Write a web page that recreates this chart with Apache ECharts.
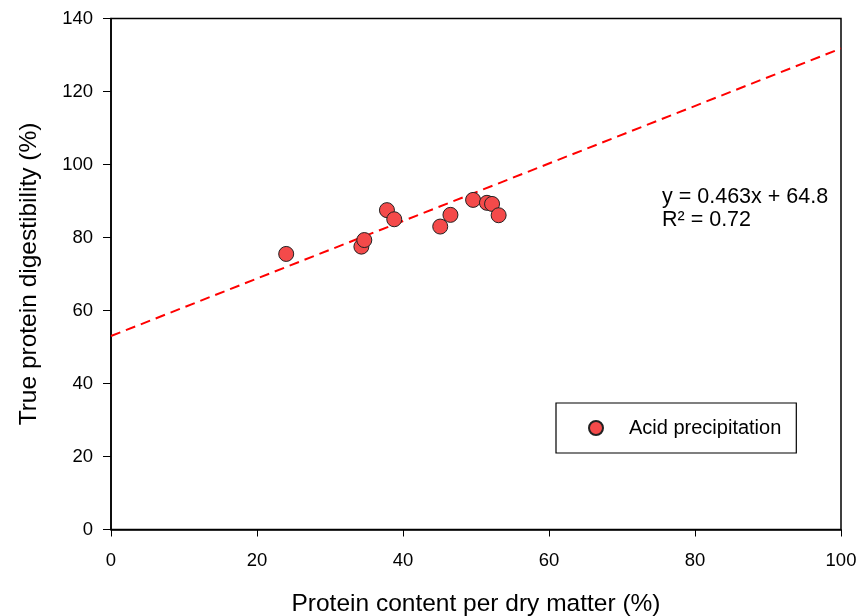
<!DOCTYPE html>
<html>
<head>
<meta charset="utf-8">
<script src="https://cdn.jsdelivr.net/npm/echarts@6/dist/echarts.min.js"></script>
<style>
  html, body { margin: 0; padding: 0; background: #fff; }
  #chart { width: 860px; height: 616px; }
</style>
</head>
<body>
<div id="chart"></div>
<script>
// protein content (% DM) vs true protein digestibility (%)
const proteinContent = [24.0, 34.3, 34.7, 37.8, 38.8, 45.1, 46.5, 49.6, 51.5, 52.2, 53.1];
const digestibility  = [75.5, 77.5, 79.3, 87.5, 85.0, 83.0, 86.2, 90.3, 89.5, 89.2, 86.1];
// fitted line as drawn, endpoints at x = 0 and x = 100
const fitX = [0, 100];
const fitY = [53.0, 131.8];
const xTicks = [0, 20, 40, 60, 80, 100];
const yTicks = [0, 20, 40, 60, 80, 100, 120, 140];

const font = 'Liberation Sans, Arial, sans-serif';

const chart = echarts.init(document.getElementById('chart'));

const option = {
  animation: false,
  backgroundColor: '#fff',
  grid: {
    left: 111, right: 19, top: 18.5, bottom: 86.5,
    outerBoundsMode: 'none',
    show: true, borderColor: '#000', borderWidth: 1.5, backgroundColor: 'transparent'
  },
  legend: {
    data: ['Acid precipitation'],
    left: 556, top: 403,
    orient: 'vertical',
    backgroundColor: '#fff',
    borderColor: '#000', borderWidth: 1.2,
    padding: [15, 15, 15, 32],
    itemWidth: 14, itemHeight: 14,
    textStyle: { fontFamily: font, fontSize: 20, color: '#000', padding: [0, 0, 0, 21] }
  },
  xAxis: {
    type: 'value', min: xTicks[0], max: xTicks[xTicks.length - 1], interval: 20,
    name: 'Protein content per dry matter (%)',
    nameLocation: 'middle', nameGap: 62,
    nameTextStyle: { fontFamily: font, fontSize: 24.5, color: '#000' },
    axisLine: { show: true, lineStyle: { color: '#000', width: 1.5 } },
    axisTick: { show: true, inside: false, length: 7, lineStyle: { color: '#000' } },
    axisLabel: { fontFamily: font, fontSize: 18.5, color: '#000', margin: 22 },
    splitLine: { show: false }
  },
  yAxis: {
    type: 'value', min: yTicks[0], max: yTicks[yTicks.length - 1], interval: 20,
    name: 'True protein digestibility (%)',
    nameLocation: 'middle', nameGap: 69,
    nameTextStyle: { fontFamily: font, fontSize: 24.5, color: '#000' },
    axisLine: { show: true, lineStyle: { color: '#000', width: 1.5 } },
    axisTick: { show: true, inside: false, length: 8, lineStyle: { color: '#000' } },
    axisLabel: { fontFamily: font, fontSize: 18.5, color: '#000', margin: 18 },
    splitLine: { show: false }
  },
  series: [
    {
      name: 'fit',
      type: 'line',
      data: fitX.map((x, i) => [x, fitY[i]]),
      symbol: 'none',
      lineStyle: { color: '#ff0000', width: 2, type: [10, 6] },
      z: 2
    },
    {
      name: 'Acid precipitation',
      type: 'scatter',
      data: proteinContent.map((x, i) => [x, digestibility[i]]),
      symbol: 'circle',
      symbolSize: 15,
      itemStyle: { color: '#f44a4a', borderColor: '#222', borderWidth: 1, opacity: 1 },
      z: 3
    }
  ],
  graphic: [
    {
      type: 'text', left: 662, top: 186,
      style: { text: 'y = 0.463x + 64.8', fontFamily: font, fontSize: 21.5, fill: '#000' }
    },
    {
      type: 'text', left: 662, top: 209,
      style: { text: 'R² = 0.72', fontFamily: font, fontSize: 21.5, fill: '#000' }
    }
  ]
};

chart.setOption(option);
</script>
</body>
</html>
